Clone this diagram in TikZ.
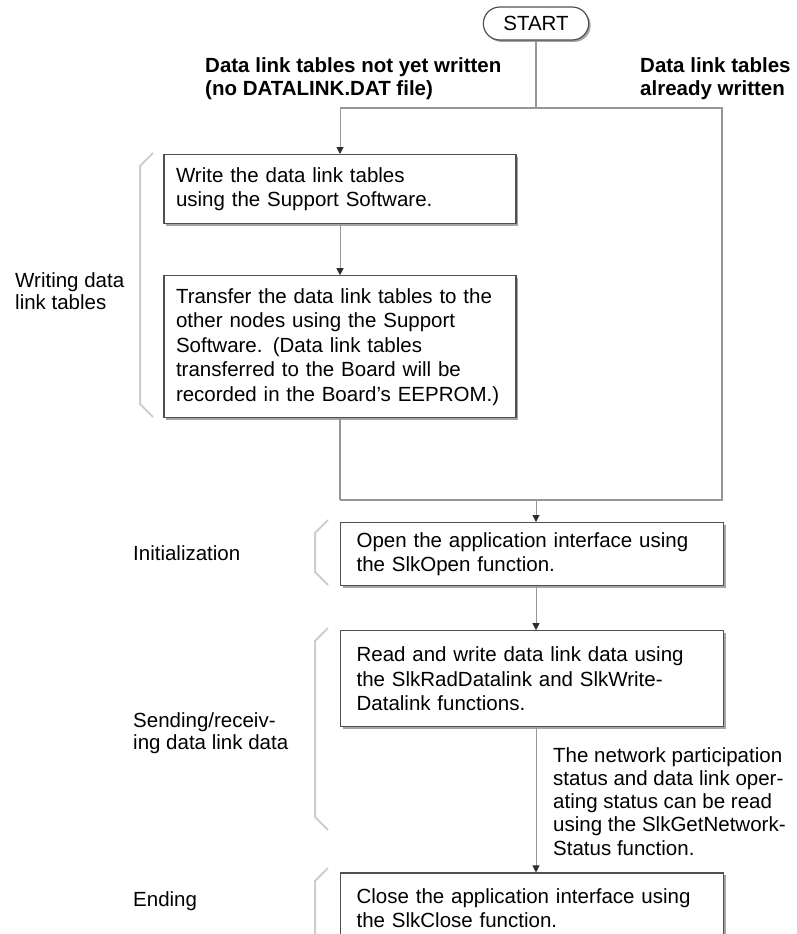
\documentclass[tikz,border=0pt]{standalone}
\usepackage{fontspec}
\setmainfont{Liberation Sans}
\usetikzlibrary{positioning,shapes.misc,shadows,arrows.meta}
\definecolor{Frame}{RGB}{80,80,80}
\definecolor{Shade}{RGB}{165,165,165}
\definecolor{Wire}{RGB}{150,150,150}
\definecolor{Tip}{RGB}{45,45,45}
\definecolor{Bracket}{RGB}{205,205,205}

\begin{document}
\begin{tikzpicture}[x=1pt,y=-1pt,
    box/.style={rectangle,draw=Frame,line width=1.2pt,fill=white,
                drop shadow={shadow xshift=2pt,shadow yshift=-2pt,fill=Shade,opacity=1},
                align=left,inner xsep=12pt,text width=328pt,
                font=\fontsize{20.5}{24.5}\selectfont},
    widebox/.style={box,inner xsep=16pt,text width=351pt},
    terminal/.style={rounded rectangle,draw=Frame,line width=1.2pt,fill=white,
                drop shadow={shadow xshift=2pt,shadow yshift=-2pt,fill=Shade,opacity=1},
                minimum width=112pt,minimum height=33pt,font=\fontsize{20.5}{24.5}\selectfont},
    heading/.style={align=left,inner sep=0pt,font=\fontsize{20.5}{23}\selectfont\bfseries},
    stagename/.style={align=left,inner sep=0pt,font=\fontsize{20.5}{22.5}\selectfont},
    note/.style={align=left,inner sep=0pt,font=\fontsize{20.5}{23.25}\selectfont},
    wire/.style={draw=Wire,line width=1.3pt},
    arrow/.style={draw=Wire,line width=1pt,-{Triangle[width=7pt,length=7pt,color=Tip]}},
    sidebar/.style={draw=Bracket,line width=2pt,line join=round}
]
\useasboundingbox (0,0) rectangle (796,934);

% Start and the two branches
\node[terminal] (start) at (536,23.5) {START};
\node[heading,anchor=north west] (hnew) at (205,57) {Data link tables not yet written\\(no DATALINK.DAT file)};
\node[heading,anchor=north west] (hold) at (640,57) {Data link tables\\already written};

\coordinate (splitl) at (340,108);
\coordinate (splitr) at (722,108);
\coordinate (joinl) at (340,500);
\coordinate (joinr) at (722,500);
\coordinate (joinm) at (536,500);

% Writing data link tables
\node[box,minimum height=69pt,anchor=north] (write) at (340,154) {Write the data link tables\\using the Support Software.};
\node[box,below=51pt of write,minimum height=142pt] (transfer) {Transfer the data link tables to the\\other nodes using the Support\\Software. (Data link tables\\transferred to the Board will be\\recorded in the Board's EEPROM.)};

% Initialization
\node[widebox,minimum height=63pt,anchor=north west] (open) at (340,522) {Open the application interface using\\the SlkOpen function.};

% Sending/receiving data link data
\node[widebox,below=44pt of open,minimum height=96pt] (readwrite) {Read and write data link data using\\the SlkRadDatalink and SlkWrite-\\Datalink functions.};
\node[note,anchor=north west] (note) at (553,747) {The network participation\\status and data link oper-\\ating status can be read\\using the SlkGetNetwork-\\Status function.};

% Ending
\node[widebox,below=145pt of readwrite,minimum height=70pt] (close) {Close the application interface using\\the SlkClose function.};

% Stage names at the left
\node[stagename,anchor=north west] (lwrite) at (15,272) {Writing data\\link tables};
\node[stagename,anchor=west] (linit) at (133,553) {Initialization};
\node[stagename,anchor=west] (lsend) at (133,733) {Sending/receiv-\\ing data link data};
\node[stagename,anchor=west] (lend) at (133,901) {Ending};

% Brackets
\foreach \xa/\ya/\yb in {140/153/417, 315/520/585, 315/628/830, 315/868/960}
    \draw[sidebar] (\xa+13,\ya) -- (\xa,\ya+13) -- (\xa,\yb-13) -- (\xa+13,\yb);

% Connectors
\draw[wire] (start.south) -- (start.south |- splitl);
\draw[wire] (splitl) -- (splitr) -- (joinr) -- (joinl);
\draw[arrow] (splitl) -- (write.north);
\draw[arrow] (write.south) -- (transfer.north);
\draw[wire] (transfer.south) -- (joinl);
\draw[arrow] (joinm) -- (joinm |- open.north);
\draw[arrow] (open.south -| joinm) -- (readwrite.north -| joinm);
\draw[arrow] (readwrite.south -| joinm) -- (close.north -| joinm);

\end{tikzpicture}
\end{document}
